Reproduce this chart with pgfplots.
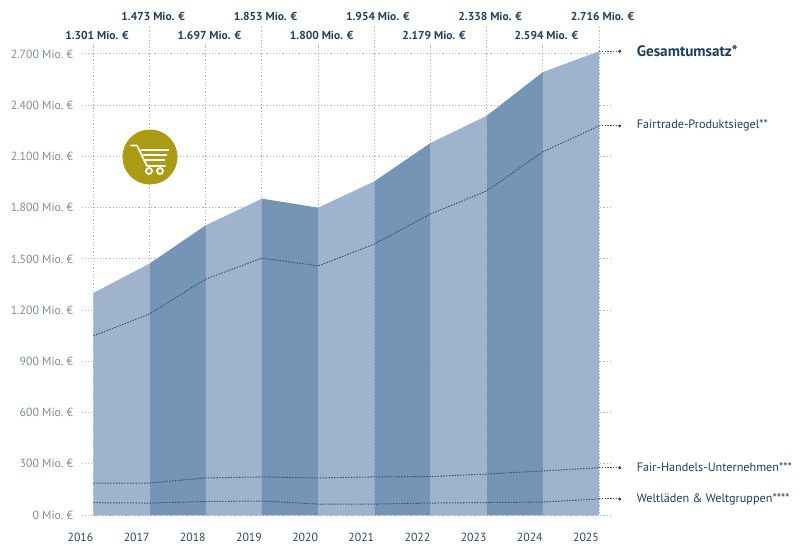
\documentclass[border=0pt]{standalone}
\usepackage{pgfplots}
\pgfplotsset{compat=1.18}
\usepackage{fontspec}
\setmainfont{PT Sans}

\definecolor{bandlight}{HTML}{9FB3CC}
\definecolor{banddark}{HTML}{7595B6}
\definecolor{navy}{HTML}{1F3F5C}
\definecolor{ticktext}{HTML}{7F8D9B}
\definecolor{gridc}{HTML}{A9B6C3}
\definecolor{cartc}{HTML}{AC9A14}

\pgfplotstableread{
year total fairtrade handel welt
2016 1301 1049 187 72
2017 1473 1178 187 70
2018 1697 1382 217 79
2019 1853 1505 223 82
2020 1800 1459 217 64
2021 1954 1587 223 64
2022 2179 1763 225 70
2023 2338 1898 240 73
2024 2594 2127 258 76
2025 2716 2279 277 94
}\sales

\newcommand{\band}[5]{%
  \addplot[fill=#1, draw=none, forget plot] coordinates {(#2,0) (#2,#4) (#3,#5) (#3,0)} \closedcycle;
}
\tikzset{
  griddots/.style={gridc, line width=1pt, dash pattern=on 1.2pt off 2pt},
  seriesdots/.style={navy!90!white, line width=1pt, dash pattern=on 1.4pt off 1.4pt},
  totallabel/.style={navy, font=\fontsize{11.5}{13}\selectfont\bfseries, xshift=3.5pt},
  namelabel/.style={anchor=west, inner sep=0pt, navy, font=\fontsize{12.2}{14}\selectfont},
}

\begin{document}
\begin{tikzpicture}
\path[use as bounding box] (-93.5pt,-31pt) rectangle (706.5pt,515pt);
\begin{axis}[
    at={(0pt,0pt)}, anchor=south west,
    scale only axis,
    width=505.5pt, height=461pt,
    xmin=2016, xmax=2025, ymin=0, ymax=2700,
    clip=false,
    axis line style={draw=none},
    xtick={2016,...,2025},
    ytick={0,300,...,2700},
    xticklabel style={/pgf/number format/1000 sep={}, font=\fontsize{11.8}{13}\selectfont, text=navy!85!gray, xshift=-13pt, yshift=-3pt},
    yticklabel={\pgfmathprintnumber[1000 sep={.}]{\tick}~Mio.~€},
    yticklabel style={font=\fontsize{11.8}{13}\selectfont, text=ticktext, xshift=-5pt},
    /pgf/number format/assume math mode=true,
    xmajorgrids, ymajorgrids,
    grid style={griddots},
    ytick pos=both, yticklabel pos=left, xtick pos=lower,
    tick align=outside,
    major tick length=12pt,
    tick style={griddots},
    x tick style={draw=none},
]
\band{bandlight}{2016}{2017}{1301}{1473}
\band{banddark}{2017}{2018}{1473}{1697}
\band{bandlight}{2018}{2019}{1697}{1853}
\band{banddark}{2019}{2020}{1853}{1800}
\band{bandlight}{2020}{2021}{1800}{1954}
\band{banddark}{2021}{2022}{1954}{2179}
\band{bandlight}{2022}{2023}{2179}{2338}
\band{banddark}{2023}{2024}{2338}{2594}
\band{bandlight}{2024}{2025}{2594}{2716}

% dotted edge left showing over the fill
\draw[griddots] (axis cs:2016,1301) -- (axis cs:2016,0) -- (axis cs:2025,0) -- (axis cs:2025,2716);

\addplot[seriesdots] table[x=year, y=fairtrade] {\sales};
\addplot[seriesdots] table[x=year, y=handel] {\sales};
\addplot[seriesdots] table[x=year, y=welt] {\sales};

% leaders to the series names
\addplot[seriesdots] coordinates {(2025,2716) (2025.37,2716)};
\addplot[seriesdots] coordinates {(2025,2279) (2025.37,2279)};
\addplot[seriesdots] coordinates {(2025,277) (2025.37,277)};
\addplot[seriesdots] coordinates {(2025,94) (2025.37,94)};
\addplot[only marks, mark=*, mark size=1.3pt, navy] coordinates {(2025.37,2716) (2025.37,2279) (2025.37,277) (2025.37,94)};

\node[namelabel, font=\fontsize{15.2}{17}\selectfont\bfseries] at (axis cs:2025.67,2716) {Gesamtumsatz*};
\node[namelabel] at (axis cs:2025.67,2279) {Fairtrade-Produktsiegel**};
\node[namelabel] at (axis cs:2025.67,277) {Fair-Handels-Unternehmen***};
\node[namelabel] at (axis cs:2025.67,94) {Weltläden \& Weltgruppen****};

% vertical grid stubs above the plot, alternating heights, with the totals
\pgfplotsinvokeforeach{2016,2018,2020,2022,2024}{
  \draw[griddots] (axis cs:#1,2700) -- ([yshift=10pt]axis cs:#1,2700);
}
\pgfplotsinvokeforeach{2017,2019,2021,2023,2025}{
  \draw[griddots] (axis cs:#1,2700) -- ([yshift=28pt]axis cs:#1,2700);
}
\node[totallabel] at ([yshift=19pt]axis cs:2016,2700) {1.301 Mio. €};
\node[totallabel] at ([yshift=38pt]axis cs:2017,2700) {1.473 Mio. €};
\node[totallabel] at ([yshift=19pt]axis cs:2018,2700) {1.697 Mio. €};
\node[totallabel] at ([yshift=38pt]axis cs:2019,2700) {1.853 Mio. €};
\node[totallabel] at ([yshift=19pt]axis cs:2020,2700) {1.800 Mio. €};
\node[totallabel] at ([yshift=38pt]axis cs:2021,2700) {1.954 Mio. €};
\node[totallabel] at ([yshift=19pt]axis cs:2022,2700) {2.179 Mio. €};
\node[totallabel] at ([yshift=38pt]axis cs:2023,2700) {2.338 Mio. €};
\node[totallabel] at ([yshift=19pt]axis cs:2024,2700) {2.594 Mio. €};
\node[totallabel] at ([yshift=38pt]axis cs:2025,2700) {2.716 Mio. €};
\end{axis}

% cart badge
\begin{scope}[shift={(56.5pt,358pt)}, x=1pt, y=1pt]
\fill[cartc] (0,0) circle (27.5);
\draw[white, line width=1.8pt, line cap=round, line join=round] (-19,11.5) -- (-13,11.5) -- (-3,-9) -- (15,-9);
\draw[white, line width=1.8pt] (-9,7) -- (19,7);
\draw[white, line width=1.8pt] (-7,2) -- (17,2);
\draw[white, line width=1.8pt] (-5,-3) -- (15,-3);
\draw[white, line width=1.8pt] (-1,-14) circle (3);
\draw[white, line width=1.8pt] (10,-14) circle (3);
\end{scope}
\end{tikzpicture}
\end{document}
